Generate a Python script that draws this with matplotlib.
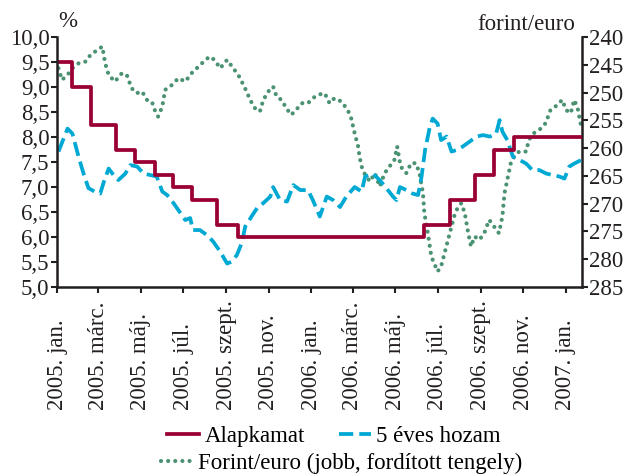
import pandas as pd
import matplotlib
matplotlib.use("Agg")
import matplotlib.pyplot as plt
from matplotlib.lines import Line2D
from matplotlib.ticker import FuncFormatter

plt.rcParams['font.family'] = ['Liberation Serif', 'DejaVu Serif']

# base rate (Alapkamat), step changes
rate_dates = ["2005-01-01", "2005-01-23", "2005-02-19", "2005-03-27", "2005-04-23",
              "2005-05-21", "2005-06-17", "2005-07-14", "2005-08-19", "2005-09-17",
              "2006-06-12", "2006-07-19", "2006-08-24", "2006-09-20", "2006-10-19",
              "2007-01-24"]
rate_vals = [9.50, 9.00, 8.25, 7.75, 7.50, 7.25, 7.00, 6.75, 6.25, 6.00,
             6.25, 6.75, 7.25, 7.75, 8.00, 8.00]

# 5 year yield
yield_dates = ["2005-01-03", "2005-01-16", "2005-01-23", "2005-02-01", "2005-02-08",
               "2005-02-15", "2005-02-25", "2005-03-04", "2005-03-09", "2005-03-16",
               "2005-03-23", "2005-03-30", "2005-04-09", "2005-04-16", "2005-04-26",
               "2005-05-05", "2005-05-15", "2005-05-24", "2005-06-01", "2005-06-08",
               "2005-06-17", "2005-06-27", "2005-07-04", "2005-07-11", "2005-07-15",
               "2005-07-25", "2005-08-04", "2005-08-13", "2005-08-23", "2005-09-02",
               "2005-09-09", "2005-09-16", "2005-09-23", "2005-09-28", "2005-10-07",
               "2005-10-15", "2005-10-24", "2005-11-03", "2005-11-07", "2005-11-17",
               "2005-11-27", "2005-12-06", "2005-12-16", "2005-12-27", "2006-01-03",
               "2006-01-13", "2006-01-23", "2006-02-01", "2006-02-11", "2006-02-20",
               "2006-03-04", "2006-03-14", "2006-03-19", "2006-03-30", "2006-04-09",
               "2006-04-19", "2006-04-28", "2006-05-03", "2006-05-08", "2006-05-17",
               "2006-05-26", "2006-06-03", "2006-06-08", "2006-06-13", "2006-06-20",
               "2006-06-24", "2006-07-01", "2006-07-06", "2006-07-14", "2006-07-21",
               "2006-07-28", "2006-08-06", "2006-08-16", "2006-08-26", "2006-09-04",
               "2006-09-14", "2006-09-23", "2006-09-28", "2006-10-02", "2006-10-09",
               "2006-10-17", "2006-10-27", "2006-11-05", "2006-11-14", "2006-11-24",
               "2006-12-04", "2006-12-13", "2006-12-23", "2006-12-30", "2007-01-06",
               "2007-01-13", "2007-01-23"]
yield_vals = [7.71, 8.17, 8.07, 7.60, 7.27, 6.98, 6.90, 6.87, 7.10, 7.37,
              7.24, 7.14, 7.27, 7.44, 7.41, 7.27, 7.24, 7.21, 6.91, 6.84,
              6.68, 6.48, 6.34, 6.38, 6.14, 6.14, 6.04, 5.91, 5.71, 5.47,
              5.51, 5.64, 5.88, 6.21, 6.41, 6.58, 6.68, 6.81, 7.00, 6.74,
              6.71, 7.04, 6.94, 6.94, 6.74, 6.41, 6.81, 6.74, 6.60, 6.81,
              7.00, 6.91, 7.21, 7.27, 7.14, 6.97, 6.81, 6.74, 7.00, 6.94,
              6.87, 6.84, 7.21, 7.74, 8.21, 8.37, 8.27, 7.94, 8.01, 7.71,
              7.74, 7.81, 7.91, 8.01, 8.04, 8.01, 8.07, 8.34, 8.11, 7.94,
              7.61, 7.54, 7.47, 7.34, 7.34, 7.27, 7.24, 7.21, 7.17, 7.41,
              7.47, 7.54]

# forint/euro exchange rate (right axis, inverted)
fx_dates = ["2005-01-03", "2005-01-08", "2005-01-16", "2005-01-23", "2005-02-01",
            "2005-02-11", "2005-02-18", "2005-02-28", "2005-03-07", "2005-03-11",
            "2005-03-16", "2005-03-25", "2005-04-04", "2005-04-11", "2005-04-18",
            "2005-04-25", "2005-05-03", "2005-05-10", "2005-05-17", "2005-05-22",
            "2005-05-26", "2005-06-01", "2005-06-05", "2005-06-15", "2005-06-24",
            "2005-07-04", "2005-07-13", "2005-07-23", "2005-08-02", "2005-08-08",
            "2005-08-15", "2005-08-23", "2005-09-02", "2005-09-09", "2005-09-18",
            "2005-09-23", "2005-09-30", "2005-10-05", "2005-10-12", "2005-10-19",
            "2005-10-24", "2005-10-31", "2005-11-07", "2005-11-12", "2005-11-19",
            "2005-11-26", "2005-12-03", "2005-12-10", "2005-12-18", "2005-12-27",
            "2006-01-03", "2006-01-10", "2006-01-20", "2006-01-27", "2006-02-03",
            "2006-02-13", "2006-02-22", "2006-02-27", "2006-03-04", "2006-03-09",
            "2006-03-11", "2006-03-14", "2006-03-19", "2006-03-26", "2006-04-02",
            "2006-04-09", "2006-04-16", "2006-04-23", "2006-04-30", "2006-05-04",
            "2006-05-09", "2006-05-17", "2006-05-24", "2006-05-31", "2006-06-05",
            "2006-06-10", "2006-06-12", "2006-06-17", "2006-06-22", "2006-06-26",
            "2006-07-01", "2006-07-06", "2006-07-11", "2006-07-16", "2006-07-21",
            "2006-07-26", "2006-07-31", "2006-08-04", "2006-08-09", "2006-08-14",
            "2006-08-18", "2006-08-23", "2006-08-30", "2006-09-06", "2006-09-13",
            "2006-09-20", "2006-09-27", "2006-10-02", "2006-10-05", "2006-10-09",
            "2006-10-14", "2006-10-19", "2006-10-26", "2006-11-05", "2006-11-09",
            "2006-11-16", "2006-11-24", "2006-12-03", "2006-12-10", "2006-12-17",
            "2006-12-27", "2007-01-01", "2007-01-08", "2007-01-13", "2007-01-18",
            "2007-01-23"]
fx_vals = [245.6, 247.7, 246.8, 245.6, 244.7, 244.4, 243.2, 242.3, 241.7, 244.7,
           246.8, 248.0, 246.5, 246.8, 249.2, 250.1, 249.8, 251.3, 251.6, 253.4,
           254.3, 252.5, 249.5, 248.6, 247.4, 248.0, 246.5, 245.3, 244.1, 243.5,
           244.1, 245.6, 244.1, 245.3, 246.8, 248.0, 249.8, 251.3, 252.8, 253.4,
           251.3, 249.8, 248.9, 250.7, 251.3, 252.8, 254.0, 253.1, 251.9, 251.9,
           251.0, 250.4, 250.1, 251.9, 251.0, 251.6, 253.1, 254.6, 257.3, 259.7,
           261.5, 263.3, 264.8, 266.0, 264.5, 266.9, 264.5, 263.3, 262.1, 259.7,
           263.3, 264.5, 262.7, 262.7, 264.5, 268.1, 271.7, 275.3, 279.5, 280.7,
           282.2, 281.3, 278.9, 276.5, 274.1, 271.7, 270.5, 269.9, 271.7, 275.3,
           277.7, 275.9, 276.5, 275.3, 272.9, 274.1, 275.3, 272.3, 268.1, 265.7,
           262.7, 261.5, 260.6, 260.6, 258.5, 257.3, 256.7, 255.5, 253.1, 252.5,
           251.3, 253.1, 253.7, 251.3, 252.8, 256.1]

tick_dates = ["2005-01-01", "2005-03-01", "2005-05-01", "2005-07-01", "2005-09-01",
              "2005-11-01", "2006-01-01", "2006-03-01", "2006-05-01", "2006-07-01",
              "2006-09-01", "2006-11-01", "2007-01-01"]
tick_labels = ["2005. jan.", "2005. márc.", "2005. máj.", "2005. júl.", "2005. szept.",
               "2005. nov.", "2006. jan.", "2006. márc.", "2006. máj.", "2006. júl.",
               "2006. szept.", "2006. nov.", "2007. jan."]

red = "#9b0034"
blue = "#00a8d4"
green = "#4a9272"
dark = "#231f20"
fs = 16.5

fig = plt.figure(figsize=(6.27, 4.76), dpi=100)
ax = fig.add_axes([0.091, 0.397, 0.837, 0.525])
ax2 = ax.twinx()
ax.set_zorder(ax2.get_zorder() + 1)
ax.patch.set_visible(False)

green_ls = (0, (0.01, 1.7))
ax2.plot(pd.to_datetime(fx_dates), fx_vals, color=green, lw=3.0,
         linestyle=green_ls, dash_capstyle="round")
ax.plot(pd.to_datetime(yield_dates), yield_vals, color=blue, lw=2.7,
        dashes=(3.8, 1.6))
ax.plot(pd.to_datetime(rate_dates), rate_vals, color=red, lw=2.7,
        drawstyle="steps-post")

xmin, xmax = pd.Timestamp("2005-01-01"), pd.Timestamp("2007-01-24")
ax.set_xlim(xmin, xmax)
ax.set_ylim(5, 10)
ax.set_yticks([5 + 0.5 * i for i in range(11)])
ax.yaxis.set_major_formatter(FuncFormatter(lambda v, p: f"{v:.1f}".replace(".", ",")))
ax2.set_ylim(285, 240)
ax2.set_yticks(list(range(240, 290, 5)))

ax.set_xticks(pd.to_datetime(tick_dates))
ax.set_xticklabels([])
for d, lab in zip(pd.to_datetime(tick_dates), tick_labels):
    ax.text(d, -0.492, lab, rotation=90, ha="center", va="bottom",
            fontsize=fs, color=dark, transform=ax.get_xaxis_transform())

for a in (ax, ax2):
    a.spines["top"].set_visible(False)
    for s in ["left", "right", "bottom"]:
        a.spines[s].set_color(dark)
        a.spines[s].set_linewidth(1.8)
    a.tick_params(colors=dark, labelsize=fs, width=1.5, length=4, pad=1.5)
ax.spines["right"].set_visible(False)
ax2.spines["left"].set_visible(False)
ax2.spines["bottom"].set_visible(False)

fig.text(0.108, 0.955, "%", fontsize=fs, color=dark, ha="center", va="center")
fig.text(0.918, 0.948, "forint/euro", fontsize=fs, color=dark, ha="right", va="center")

h1 = [Line2D([], [], color=red, lw=2.7),
      Line2D([], [], color=blue, lw=2.7, dashes=(3.8, 1.6))]
fig.legend(h1, ["Alapkamat", "5 éves hozam"], loc="center",
           bbox_to_anchor=(0.533, 0.083), ncol=2, frameon=False,
           fontsize=fs, handlelength=1.4, handletextpad=0.25,
           columnspacing=1.45, borderpad=0)
h2 = [Line2D([], [], color=green, lw=3.0, linestyle=green_ls,
             dash_capstyle="round")]
fig.legend(h2, ["Forint/euro (jobb, fordított tengely)"], loc="center",
           bbox_to_anchor=(0.545, 0.027), frameon=False, fontsize=fs,
           handlelength=1.4, handletextpad=0.25, borderpad=0)

fig.savefig("out.png", dpi=100)
